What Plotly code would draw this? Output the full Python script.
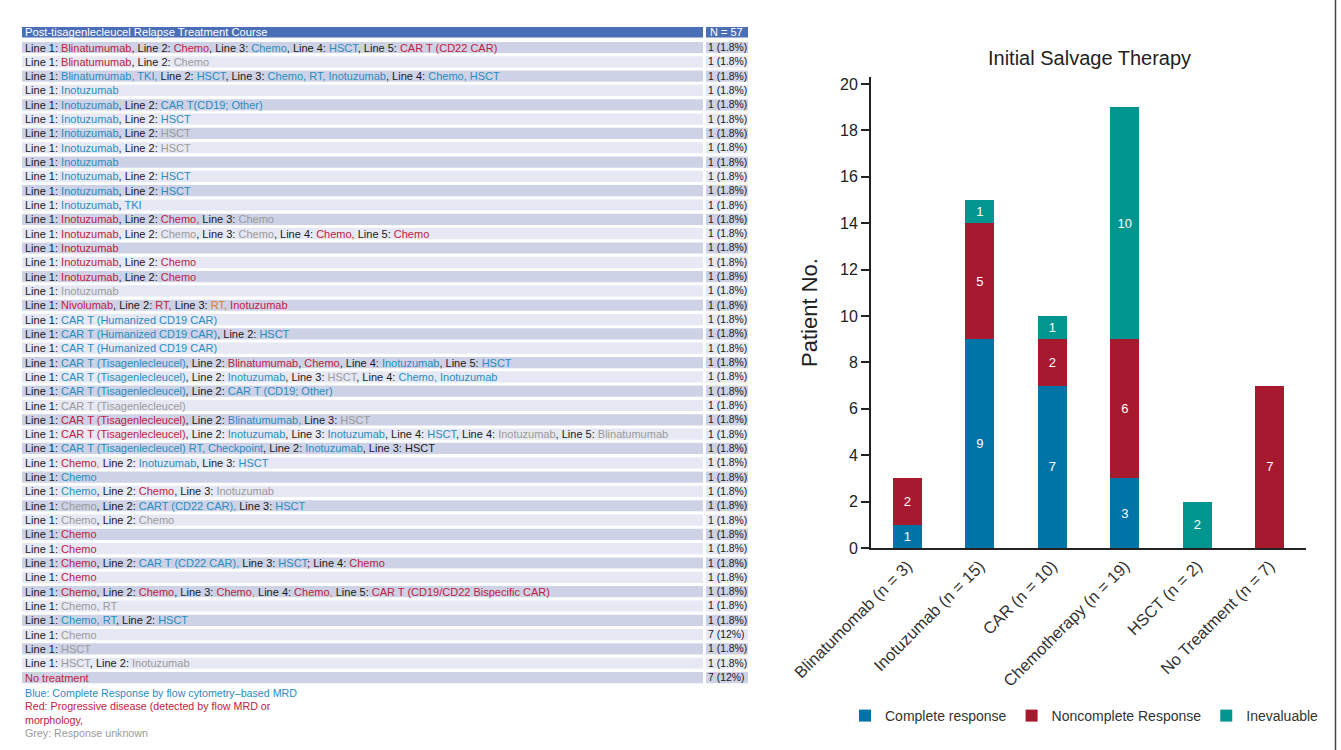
import re
import plotly.graph_objects as go

# ---------------- data ----------------
categories = ["Blinatumomab (n = 3)", "Inotuzumab (n = 15)", "CAR (n = 10)",
              "Chemotherapy (n = 19)", "HSCT (n = 2)", "No Treatment (n = 7)"]
complete_response = [1, 9, 7, 3, 0, 0]
noncomplete_response = [2, 5, 2, 6, 0, 7]
inevaluable = [0, 1, 1, 10, 2, 0]

table_title = "Post-tisagenlecleucel Relapse Treatment Course"
table_n_header = "N = 57"
table_rows = [
    "Line 1: {r:Blinatumumab}, Line 2: {r:Chemo}, Line 3: {b:Chemo}, Line 4: {b:HSCT}, Line 5: {r:CAR T (CD22 CAR)}",
    "Line 1: {r:Blinatumumab}, Line 2: {g:Chemo}",
    "Line 1: {b:Blinatumumab, TKI,} Line 2: {b:HSCT}, Line 3: {b:Chemo, RT, Inotuzumab}, Line 4: {b:Chemo, HSCT}",
    "Line 1: {b:Inotuzumab}",
    "Line 1: {b:Inotuzumab}, Line 2: {b:CAR T(CD19; Other)}",
    "Line 1: {b:Inotuzumab}, Line 2: {b:HSCT}",
    "Line 1: {b:Inotuzumab}, Line 2: {g:HSCT}",
    "Line 1: {b:Inotuzumab}, Line 2: {g:HSCT}",
    "Line 1: {b:Inotuzumab}",
    "Line 1: {b:Inotuzumab}, Line 2: {b:HSCT}",
    "Line 1: {b:Inotuzumab}, Line 2: {b:HSCT}",
    "Line 1: {b:Inotuzumab}, {b:TKI}",
    "Line 1: {r:Inotuzumab}, Line 2: {r:Chemo,} Line 3: {g:Chemo}",
    "Line 1: {r:Inotuzumab}, Line 2: {g:Chemo}, Line 3: {g:Chemo}, Line 4: {r:Chemo,} Line 5: {r:Chemo}",
    "Line 1: {r:Inotuzumab}",
    "Line 1: {r:Inotuzumab}, Line 2: {r:Chemo}",
    "Line 1: {r:Inotuzumab}, Line 2: {r:Chemo}",
    "Line 1: {g:Inotuzumab}",
    "Line 1: {r:Nivolumab}, Line 2: {r:RT,} Line 3: {o:RT,} {r:Inotuzumab}",
    "Line 1: {b:CAR T (Humanized CD19 CAR)}",
    "Line 1: {b:CAR T (Humanized CD19 CAR)}, Line 2: {b:HSCT}",
    "Line 1: {b:CAR T (Humanized CD19 CAR)}",
    "Line 1: {b:CAR T (Tisagenlecleucel)}, Line 2: {r:Blinatumumab}, {r:Chemo}, Line 4: {b:Inotuzumab}, Line 5: {b:HSCT}",
    "Line 1: {b:CAR T (Tisagenlecleucel)}, Line 2: {b:Inotuzumab}, Line 3: {g:HSCT}, Line 4: {b:Chemo, Inotuzumab}",
    "Line 1: {b:CAR T (Tisagenlecleucel)}, Line 2: {b:CAR T (CD19; Other)}",
    "Line 1: {g:CAR T (Tisagenlecleucel)}",
    "Line 1: {r:CAR T (Tisagenlecleucel)}, Line 2: {b:Blinatumumab,} Line 3: {g:HSCT}",
    "Line 1: {r:CAR T (Tisagenlecleucel)}, Line 2: {b:Inotuzumab}, Line 3: {b:Inotuzumab}, Line 4: {b:HSCT}, Line 4: {g:Inotuzumab}, Line 5: {g:Blinatumumab}",
    "Line 1: {b:CAR T (Tisagenlecleucel) RT, Checkpoint}, Line 2: {b:Inotuzumab}, Line 3: HSCT",
    "Line 1: {r:Chemo}{o:,} Line 2: {b:Inotuzumab}, Line 3: {b:HSCT}",
    "Line 1: {b:Chemo}",
    "Line 1: {b:Chemo}, Line 2: {r:Chemo}, Line 3: {g:Inotuzumab}",
    "Line 1: {g:Chemo}, Line 2: {b:CART (CD22 CAR),} Line 3: {b:HSCT}",
    "Line 1: {g:Chemo}, Line 2: {g:Chemo}",
    "Line 1: {r:Chemo}",
    "Line 1: {r:Chemo}",
    "Line 1: {r:Chemo}, Line 2: {b:CAR T (CD22 CAR),} Line 3: {b:HSCT}; Line 4: {r:Chemo}",
    "Line 1: {r:Chemo}",
    "Line 1: {r:Chemo}, Line 2: {r:Chemo}, Line 3: {r:Chemo}{o:,} Line 4: {r:Chemo}{o:,} Line 5: {r:CAR T (CD19/CD22 Bispecific CAR)}",
    "Line 1: {g:Chemo, RT}",
    "Line 1: {b:Chemo, RT}, Line 2: {b:HSCT}",
    "Line 1: {g:Chemo}",
    "Line 1: {g:HSCT}",
    "Line 1: {g:HSCT}, Line 2: {g:Inotuzumab}",
    "{r:No treatment}",
]
table_n = ["1 (1.8%)"] * 41 + ["7 (12%)", "1 (1.8%)", "1 (1.8%)", "7 (12%)"]

footnotes = [
    ("b", "Blue: Complete Response by flow cytometry\u2013based MRD"),
    ("r", "Red: Progressive disease (detected by flow MRD or"),
    ("r", "morphology,"),
    ("g", "Grey: Response unknown"),
]

# ---------------- styles ----------------
W, H = 1341, 750
TXT = {"b": "#2a8dc0", "r": "#c1213f", "g": "#9b9b9b", "o": "#e07a30", "k": "#1a1a1a"}
C_CR, C_NCR, C_INE = "#0073a7", "#a6192e", "#00968f"
FONT = "Liberation Sans, Arial, sans-serif"


def px(x):
    return x / W


def py(y):
    return 1 - y / H


def markup(s):
    return re.sub(r"\{(\w):([^}]*)\}",
                  lambda m: f"<span style='color:{TXT[m.group(1)]}'>{m.group(2)}</span>", s)


fig = go.Figure()
for name, vals, col in [("Complete response", complete_response, C_CR),
                        ("Noncomplete Response", noncomplete_response, C_NCR),
                        ("Inevaluable", inevaluable, C_INE)]:
    fig.add_trace(go.Bar(
        x=categories, y=vals, name=name, marker=dict(color=col, line=dict(width=0)),
        text=[str(v) if v else "" for v in vals], textposition="inside",
        insidetextanchor="middle", textangle=0,
        textfont=dict(color="white", size=13, family=FONT), width=0.4,
    ))

shapes = []
annotations = []

# table header
L, R1, N0, N1 = 22, 703, 706, 748
for a, b in [(L, R1), (N0, N1)]:
    shapes.append(dict(type="rect", xref="paper", yref="paper", x0=px(a), x1=px(b),
                       y0=py(37.5), y1=py(27), fillcolor="#4a6fb6", line=dict(width=0),
                       layer="below"))
annotations.append(dict(text=table_title, x=px(L + 1), y=py(32.3), xref="paper", yref="paper",
                        xanchor="left", yanchor="middle", showarrow=False,
                        font=dict(family=FONT, size=11.2, color="white")))
annotations.append(dict(text=table_n_header, x=px(N0 + 2), y=py(32.3), xref="paper", yref="paper",
                        xanchor="left", yanchor="middle", showarrow=False,
                        font=dict(family=FONT, size=11, color="white")))

pitch = 14.32
for i, (row, n) in enumerate(zip(table_rows, table_n)):
    yc = 47.5 + i * pitch
    fill = "#cdd2e6" if i % 2 == 0 else "#e6e8f4"
    for a, b in [(L, R1), (N0, N1)]:
        shapes.append(dict(type="rect", xref="paper", yref="paper", x0=px(a), x1=px(b),
                           y0=py(yc + 5.6), y1=py(yc - 5.6), fillcolor=fill,
                           line=dict(width=0), layer="below"))
    annotations.append(dict(text=markup(row), x=px(L + 1), y=py(yc), xref="paper", yref="paper",
                            xanchor="left", yanchor="middle", showarrow=False,
                            font=dict(family=FONT, size=11, color=TXT["k"])))
    annotations.append(dict(text=n, x=px(N0), y=py(yc), xref="paper", yref="paper",
                            xanchor="left", yanchor="middle", showarrow=False,
                            font=dict(family=FONT, size=10.4, color=TXT["k"])))

for j, (c, t) in enumerate(footnotes):
    annotations.append(dict(text=t, x=px(L + 1), y=py(693 + j * 13.4), xref="paper", yref="paper",
                            xanchor="left", yanchor="middle", showarrow=False,
                            font=dict(family=FONT, size=10.7, color=TXT[c])))

# right border line
shapes.append(dict(type="line", xref="paper", yref="paper", x0=px(1335.5), x1=px(1335.5),
                   y0=0, y1=1, line=dict(color="#444", width=1.5)))

annotations.append(dict(text="Initial Salvage Therapy", x=px(1089), y=py(58), xref="paper",
                        yref="paper", xanchor="center", yanchor="middle", showarrow=False,
                        font=dict(family=FONT, size=20, color="#222")))

fig.update_layout(
    width=W, height=H, barmode="stack", plot_bgcolor="white", paper_bgcolor="white",
    margin=dict(l=0, r=0, t=0, b=0, autoexpand=False), shapes=shapes, annotations=annotations,
    font=dict(family=FONT, color="#222"),
    xaxis=dict(domain=[px(871), px(1306)], range=[-0.5, 5.5], showline=True, linecolor="#222",
               linewidth=2, ticks="", tickangle=-45, tickfont=dict(size=16.5, color="#333"),
               showgrid=False, zeroline=False, anchor="y", automargin=False),
    yaxis=dict(domain=[py(548), py(77)], range=[0, 20.3], showline=True, linecolor="#222",
               linewidth=2, ticks="outside", ticklen=8, tickwidth=2, tickcolor="#222",
               tickvals=list(range(0, 21, 2)), tickfont=dict(size=16, color="#222"),
               title=dict(text="Patient No.", font=dict(size=22, color="#222"), standoff=16),
               showgrid=False, zeroline=False, anchor="x", automargin=False),
    legend=dict(orientation="h", x=px(845), y=py(716), xanchor="left", yanchor="middle",
                font=dict(size=14, color="#333"), traceorder="normal", itemwidth=30),
    bargap=0.6,
)

fig.write_html("out.html", config={"displayModeBar": False},
               post_script="document.body.style.margin='0';document.body.style.overflow='hidden';")
